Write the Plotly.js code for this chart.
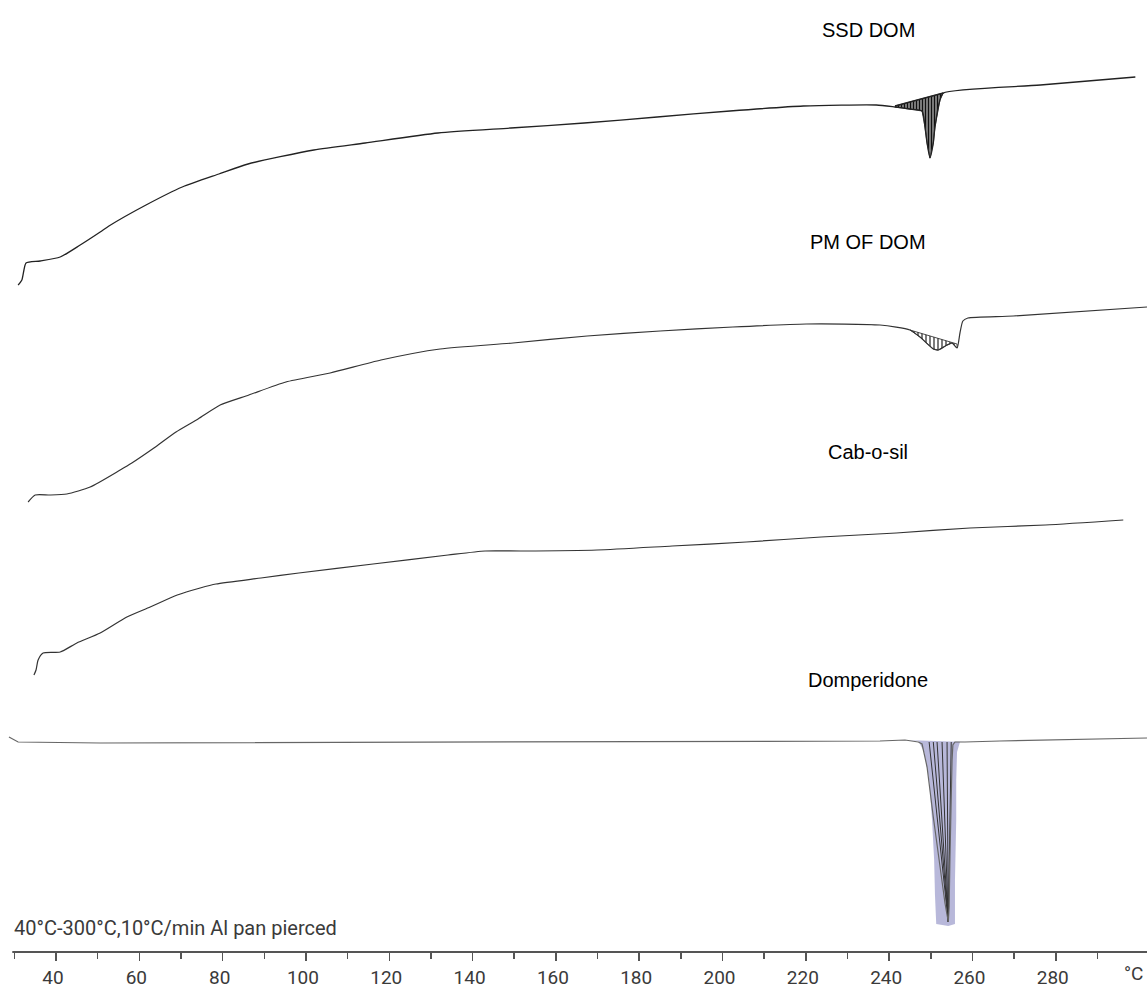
<!DOCTYPE html>
<html>
<head>
<meta charset="utf-8">
<script src="https://cdn.plot.ly/plotly-3.0.1.min.js"></script>
<style>html,body{margin:0;padding:0;background:#fff}#chart{width:1147px;height:993px}</style>
</head>
<body>
<div id="chart"></div>
<script>
// ---- Temperature axis ----
const majorTicks = [40, 60, 80, 100, 120, 140, 160, 180, 200, 220, 240, 260, 280];
const majorLabels = ["40", "60", "80", "100", "120", "140", "160", "180", "200", "220", "240", "260", "280"];
const minorTicks = [30, 50, 70, 90, 110, 130, 150, 170, 190, 210, 230, 250, 270, 290];
const axisStart = 29.5;
const unitLabel = "°C";
const methodText = "40°C-300°C,10°C/min Al pan pierced";

// ---- Curve names ----
const curveNames = ["SSD DOM", "PM OF DOM", "Cab-o-sil", "Domperidone"];

// ---- SSD DOM (temperature °C, heat-flow trace offset units) ----
const ssdT = [30.9,31.8,32.3,32.8,36.2,41.0,45.8,50.6,52.7,61.6,70.3,79.1,86.1,101.9,114.2,131.7,149.2,166.8,184.3,201.8,219.4,236.9,241.4,245.0,247.9,248.6,249.1,249.8,250.6,251.0,252.2,253.0,276.3,299.1];
const ssdY = [667,672,682,689,691,695,707,720,726,747,765,778,788,802,809,819,824,829,835,841,846,847,845,843,841,825,809,794,809,825,852,859,867,875];
const ssdBaseT = [241.4, 253.0];
const ssdBaseY = [846, 859];

// ---- PM OF DOM ----
const pmT = [33.3,35.0,38.6,42.6,48.2,55.4,58.2,63.5,68.8,74.1,79.4,86.3,95.2,105.8,118.0,132.2,149.7,167.5,185.0,202.5,220.1,237.8,245.0,247.4,250.6,251.8,253.9,255.1,256.3,257.0,257.7,258.9,269.8,301.9];
const pmY = [450,457,457,458,465,482,489,504,520,533,547,557,570,579,592,603,609,616,621,625,628,627,622,615,603,602,607,609,604,619,631,634,636,645];
const pmBaseT = [245.0, 256.3];
const pmBaseY = [622, 608];

// ---- Cab-o-sil ----
const cabT = [34.7,35.2,35.7,36.9,41.0,45.0,50.6,57.0,62.6,69.1,74.6,78.4,89.2,98.3,116.1,134.1,143.0,151.9,169.9,187.9,205.7,223.7,241.7,259.4,277.5,296.2];
const cabY = [277,282,292,299,300,309,319,335,345,357,364,368,374,379,388,397,401,401,402,406,410,415,419,424,427,432];

// ---- Domperidone ----
const domT = [28.7,30.9,50.6,122.6,194.6,237.8,243.8,247.0,247.9,249.1,250.6,252.2,253.4,254.2,254.4,254.6,254.9,255.1,255.3,255.8,258.2,266.6,301.9];
const domY = [215,210,209,210,211,211,212,210,208,185,135,85,49,30,45,95,162,192,207,210,210,211,214];
const domFillT = [243.8,247.0,248.4,249.6,250.3,250.8,251.0,251.3,254.2,255.8,255.8,256.1,256.1,256.3,257.0,258.2];
const domFillY = [212,211,200,172,132,92,57,28,26,28,72,132,172,200,210,210];
const domHatchT = [249.6,250.6,251.5,252.7,253.9,254.9];
const domHatchBaseY = 210;

// ---- helpers (build polygons from the data) ----
function peakArea(T, Y, baseT, baseY) {
  const xs = [], ys = [];
  for (let i = 0; i < T.length; i++) {
    if (T[i] >= baseT[0] && T[i] <= baseT[1]) { xs.push(T[i]); ys.push(Y[i]); }
  }
  for (let i = baseT.length - 1; i >= 0; i--) { xs.push(baseT[i]); ys.push(baseY[i]); }
  return {x: xs, y: ys};
}
const ssdArea = peakArea(ssdT, ssdY, ssdBaseT, ssdBaseY);
const pmArea = peakArea(pmT, pmY, pmBaseT, pmBaseY);

let tipIdx = 0;
for (let i = 1; i < domY.length; i++) if (domY[i] < domY[tipIdx]) tipIdx = i;
const hx = [], hy = [];
domHatchT.forEach(t => { hx.push(t, domT[tipIdx], null); hy.push(domHatchBaseY, domY[tipIdx], null); });

const smooth = {shape: 'spline', smoothing: 0.6};
const traces = [
  // SSD DOM
  {x: ssdArea.x, y: ssdArea.y, mode: 'lines', fill: 'toself', line: {width: 0.8, color: '#222'},
   fillpattern: {shape: '|', size: 3, solidity: 0.5, fgcolor: '#111', bgcolor: 'rgba(70,70,70,0.55)'}},
  {x: ssdBaseT, y: ssdBaseY, mode: 'lines', line: {width: 1.5, color: '#222'}},
  {x: ssdT, y: ssdY, mode: 'lines', line: Object.assign({width: 1.3, color: '#222'}, smooth)},
  // PM OF DOM
  {x: pmArea.x, y: pmArea.y, mode: 'lines', fill: 'toself', line: {width: 0.8, color: '#222'},
   fillpattern: {shape: '|', size: 4, solidity: 0.3, fgcolor: '#222', bgcolor: 'rgba(0,0,0,0)'}},
  {x: pmT, y: pmY, mode: 'lines', line: Object.assign({width: 1.2, color: '#333'}, smooth)},
  // Cab-o-sil
  {x: cabT, y: cabY, mode: 'lines', line: Object.assign({width: 1.2, color: '#333'}, smooth)},
  // Domperidone
  {x: domFillT, y: domFillY, mode: 'lines', fill: 'toself', fillcolor: 'rgba(172,172,212,0.85)', line: {width: 0}},
  {x: hx, y: hy, mode: 'lines', line: {width: 1, color: '#333'}},
  {x: domT, y: domY, mode: 'lines', line: {width: 1.2, color: '#666'}}
];
traces.forEach(t => { t.type = 'scatter'; t.hoverinfo = 'skip'; });

const labelFont = {family: 'Liberation Sans, Arial, sans-serif', size: 20, color: '#000'};
const scaleFont = 'Roboto, Liberation Sans, sans-serif';
const labelY = [30, 242, 452, 680];
const annotations = curveNames.map((n, i) => ({
  text: n, xref: 'paper', yref: 'paper', x: 868 / 1147, y: (952 - labelY[i]) / 952,
  xanchor: 'center', yanchor: 'middle', showarrow: false, font: labelFont
}));
annotations.push({text: methodText, xref: 'paper', yref: 'paper', x: 12 / 1147, y: (952 - 928) / 952,
  xanchor: 'left', yanchor: 'middle', showarrow: false, font: {family: scaleFont, size: 20, color: '#3a3a3a'}});
annotations.push({text: unitLabel, xref: 'paper', yref: 'paper', x: 1133 / 1147, y: -22 / 952,
  xanchor: 'center', yanchor: 'middle', showarrow: false, font: {family: scaleFont, size: 19, color: '#3a3a3a'}});

const layout = {
  width: 1147, height: 993,
  margin: {l: 0, r: 0, t: 0, b: 41},
  paper_bgcolor: '#fff', plot_bgcolor: '#fff',
  showlegend: false,
  xaxis: {
    range: [26.55, 301.9], showgrid: false, zeroline: false,
    showline: false,
    tickmode: 'array', tickvals: majorTicks, ticktext: majorLabels,
    ticks: 'outside', ticklen: 8, tickwidth: 1.5, tickcolor: '#555',
    ticklabelshift: -3, ticklabelstandoff: 0,
    tickfont: {family: scaleFont, size: 19, color: '#3a3a3a'},
    minor: {tickmode: 'array', tickvals: minorTicks, ticks: 'outside', ticklen: 6, tickwidth: 1.5, tickcolor: '#555', showgrid: false}
  },
  yaxis: {range: [0, 952], visible: false, showgrid: false, zeroline: false},
  shapes: [{type: 'line', xref: 'x', yref: 'paper', x0: axisStart, x1: 301.9, y0: 0, y1: 0, line: {color: '#555', width: 2}}],
  annotations: annotations
};

Plotly.newPlot('chart', traces, layout, {displayModeBar: false, staticPlot: true});
</script>
</body>
</html>
